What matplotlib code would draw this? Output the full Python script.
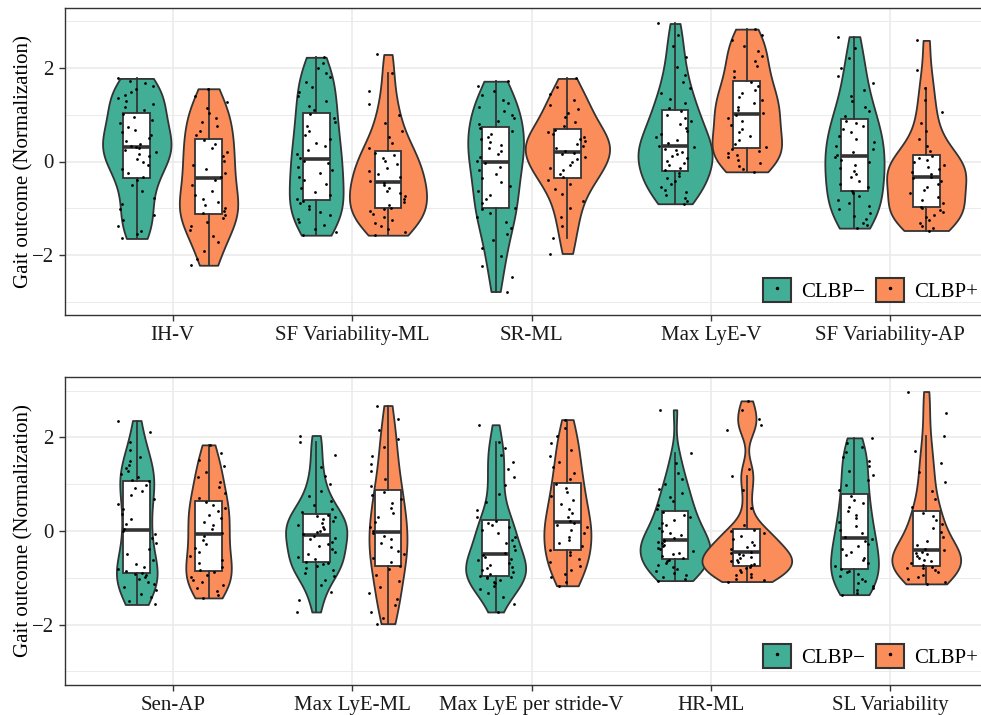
import numpy as np
import matplotlib.pyplot as plt
from matplotlib.patches import Patch
from matplotlib.lines import Line2D

plt.rcParams['font.family'] = ['Liberation Serif', 'DejaVu Serif']
plt.rcParams['font.size'] = 15

groups = ['CLBP\u2212', 'CLBP+']
colors = ['#42ae96', '#fb8d5b']
line_col = '#333333'

# ---- upper panel outcomes ----
top_labels = ['IH-V', 'SF Variability-ML', 'SR-ML', 'Max LyE-V', 'SF Variability-AP']

ihv_neg = [-1.64, -1.55, -1.47, -1.38, -1.25, -1.13, -1.02, -0.90, -0.78, -0.63, -0.50, -0.40,
           -0.33, -0.25, -0.16, -0.08, -0.02, 0.05, 0.11, 0.16, 0.20, 0.24, 0.28, 0.30,
           0.32, 0.37, 0.44, 0.50, 0.56, 0.62, 0.68, 0.74, 0.81, 0.88, 0.95, 1.01,
           1.09, 1.16, 1.22, 1.29, 1.35, 1.42, 1.48, 1.55, 1.61, 1.67, 1.72, 1.77]
ihv_pos = [-2.21, -2.08, -1.90, -1.72, -1.58, -1.46, -1.37, -1.29, -1.21, -1.15,
           -1.10, -1.05, -0.99, -0.93, -0.86, -0.79, -0.71, -0.62, -0.51, -0.39,
           -0.32, -0.24, -0.15, -0.07, 0.02, 0.11, 0.20, 0.29, 0.37, 0.45,
           0.57, 0.66, 0.75, 0.84, 0.93, 1.03, 1.14, 1.26, 1.40, 1.55]

sfml_neg = [-1.57, -1.50, -1.43, -1.36, -1.29, -1.22, -1.15, -1.08, -1.01, -0.94, -0.89, -0.84,
            -0.80, -0.72, -0.64, -0.56, -0.48, -0.40, -0.32, -0.25, -0.18, -0.11, -0.04, 0.02,
            0.08, 0.16, 0.24, 0.32, 0.40, 0.48, 0.57, 0.66, 0.75, 0.84, 0.93, 1.01,
            1.09, 1.19, 1.29, 1.39, 1.49, 1.59, 1.69, 1.79, 1.89, 1.99, 2.10, 2.22]
sfml_pos = [-1.57, -1.50, -1.43, -1.37, -1.30, -1.24, -1.18, -1.12, -1.06, -1.01,
            -0.98, -0.92, -0.86, -0.80, -0.74, -0.68, -0.62, -0.56, -0.50, -0.45,
            -0.41, -0.34, -0.27, -0.20, -0.13, -0.06, 0.01, 0.08, 0.14, 0.19,
            0.29, 0.40, 0.52, 0.66, 0.82, 1.00, 1.22, 1.50, 1.89, 2.28]

srml_neg = [-2.77, -2.45, -2.22, -2.02, -1.84, -1.68, -1.54, -1.41, -1.29, -1.18, -1.10, -1.02,
            -0.98, -0.89, -0.80, -0.71, -0.62, -0.53, -0.44, -0.36, -0.27, -0.19, -0.11, -0.04,
            0.02, 0.09, 0.15, 0.22, 0.28, 0.35, 0.41, 0.47, 0.53, 0.59, 0.65, 0.71,
            0.79, 0.86, 0.93, 1.00, 1.08, 1.16, 1.24, 1.32, 1.41, 1.50, 1.60, 1.71]
srml_pos = [-1.96, -1.62, -1.38, -1.18, -1.00, -0.84, -0.70, -0.58, -0.47, -0.39,
            -0.34, -0.26, -0.19, -0.13, -0.07, -0.01, 0.05, 0.10, 0.15, 0.19,
            0.23, 0.28, 0.33, 0.38, 0.43, 0.48, 0.53, 0.58, 0.63, 0.68,
            0.76, 0.85, 0.94, 1.03, 1.12, 1.21, 1.31, 1.43, 1.58, 1.77]

lyev_neg = [-0.90, -0.84, -0.78, -0.72, -0.66, -0.60, -0.54, -0.48, -0.42, -0.36, -0.30, -0.24,
            -0.19, -0.13, -0.08, -0.03, 0.02, 0.07, 0.12, 0.16, 0.20, 0.24, 0.27, 0.30,
            0.34, 0.40, 0.46, 0.52, 0.58, 0.65, 0.72, 0.79, 0.86, 0.93, 1.00, 1.07,
            1.15, 1.24, 1.34, 1.45, 1.57, 1.70, 1.85, 2.02, 2.22, 2.45, 2.70, 2.94]
lyev_pos = [-0.22, -0.15, -0.09, -0.03, 0.03, 0.09, 0.14, 0.19, 0.23, 0.27,
            0.30, 0.38, 0.46, 0.54, 0.62, 0.70, 0.78, 0.86, 0.93, 0.99,
            1.03, 1.10, 1.17, 1.24, 1.31, 1.38, 1.45, 1.53, 1.61, 1.69,
            1.81, 1.92, 2.03, 2.14, 2.25, 2.36, 2.47, 2.58, 2.70, 2.82]

sfap_neg = [-1.42, -1.36, -1.30, -1.23, -1.16, -1.09, -1.02, -0.95, -0.88, -0.81, -0.74, -0.67,
            -0.62, -0.55, -0.48, -0.41, -0.34, -0.27, -0.20, -0.13, -0.07, -0.01, 0.04, 0.09,
            0.13, 0.20, 0.27, 0.34, 0.41, 0.48, 0.55, 0.62, 0.69, 0.75, 0.81, 0.87,
            0.97, 1.07, 1.17, 1.28, 1.40, 1.53, 1.67, 1.83, 2.00, 2.20, 2.42, 2.66]
sfap_pos = [-1.47, -1.42, -1.37, -1.31, -1.25, -1.19, -1.13, -1.08, -1.04, -1.00,
            -0.96, -0.89, -0.82, -0.75, -0.68, -0.61, -0.54, -0.47, -0.41, -0.36,
            -0.32, -0.27, -0.22, -0.17, -0.12, -0.07, -0.02, 0.03, 0.08, 0.12,
            0.22, 0.34, 0.48, 0.64, 0.82, 1.05, 1.30, 1.57, 1.95, 2.58]

# ---- lower panel outcomes ----
bottom_labels = ['Sen-AP', 'Max LyE-ML', 'Max LyE per stride-V', 'HR-ML', 'SL Variability']

senap_neg = [-1.57, -1.50, -1.42, -1.34, -1.26, -1.19, -1.13, -1.08, -1.03, -0.99, -0.95, -0.92,
             -0.89, -0.86, -0.82, -0.77, -0.70, -0.61, -0.50, -0.38, -0.26, -0.15, -0.06, 0.00,
             0.04, 0.14, 0.25, 0.36, 0.47, 0.58, 0.68, 0.77, 0.85, 0.92, 0.99, 1.06,
             1.10, 1.16, 1.22, 1.28, 1.34, 1.41, 1.49, 1.59, 1.72, 1.90, 2.12, 2.36]
senap_pos = [-1.43, -1.36, -1.29, -1.22, -1.16, -1.10, -1.04, -0.98, -0.93, -0.88,
             -0.84, -0.77, -0.69, -0.61, -0.53, -0.45, -0.37, -0.28, -0.19, -0.10,
             -0.04, 0.04, 0.12, 0.20, 0.28, 0.35, 0.42, 0.49, 0.55, 0.62,
             0.71, 0.82, 0.93, 1.04, 1.15, 1.26, 1.38, 1.51, 1.66, 1.84]

lyeml_neg = [-1.73, -1.48, -1.30, -1.16, -1.05, -0.96, -0.89, -0.83, -0.78, -0.74, -0.71, -0.69,
             -0.66, -0.60, -0.55, -0.49, -0.44, -0.38, -0.33, -0.28, -0.23, -0.18, -0.14, -0.11,
             -0.07, -0.03, 0.01, 0.05, 0.09, 0.13, 0.17, 0.21, 0.25, 0.29, 0.32, 0.35,
             0.40, 0.47, 0.55, 0.64, 0.74, 0.86, 1.00, 1.17, 1.37, 1.62, 1.90, 2.04]
lyeml_pos = [-1.98, -1.85, -1.72, -1.59, -1.46, -1.33, -1.20, -1.07, -0.94, -0.81,
             -0.74, -0.66, -0.58, -0.50, -0.42, -0.34, -0.26, -0.18, -0.11, -0.05,
             -0.01, 0.09, 0.19, 0.29, 0.39, 0.49, 0.59, 0.68, 0.76, 0.84,
             0.96, 1.12, 1.28, 1.44, 1.61, 1.79, 1.97, 2.16, 2.40, 2.68]

lyes_neg = [-1.73, -1.55, -1.42, -1.32, -1.24, -1.17, -1.12, -1.08, -1.04, -1.01, -0.99, -0.98,
            -0.96, -0.92, -0.88, -0.84, -0.80, -0.76, -0.72, -0.68, -0.63, -0.59, -0.55, -0.51,
            -0.47, -0.40, -0.33, -0.26, -0.19, -0.12, -0.05, 0.02, 0.08, 0.13, 0.17, 0.21,
            0.30, 0.45, 0.62, 0.80, 0.98, 1.15, 1.32, 1.48, 1.63, 1.78, 1.91, 2.27]
lyes_pos = [-1.17, -1.08, -0.99, -0.91, -0.83, -0.75, -0.67, -0.59, -0.51, -0.44,
            -0.40, -0.33, -0.26, -0.19, -0.12, -0.05, 0.02, 0.08, 0.13, 0.17,
            0.21, 0.30, 0.39, 0.48, 0.57, 0.66, 0.75, 0.84, 0.92, 1.00,
            1.12, 1.24, 1.36, 1.48, 1.60, 1.73, 1.87, 2.02, 2.19, 2.38]

hrml_neg = [-1.06, -1.02, -0.98, -0.94, -0.90, -0.86, -0.82, -0.77, -0.72, -0.68, -0.64, -0.61,
            -0.58, -0.54, -0.50, -0.46, -0.43, -0.39, -0.36, -0.33, -0.29, -0.26, -0.23, -0.21,
            -0.19, -0.14, -0.09, -0.04, 0.01, 0.06, 0.12, 0.18, 0.24, 0.30, 0.35, 0.40,
            0.48, 0.56, 0.64, 0.72, 0.81, 0.90, 1.00, 1.11, 1.24, 1.45, 1.67, 2.59]
hrml_pos = [-1.08, -1.05, -1.02, -0.98, -0.95, -0.91, -0.88, -0.84, -0.80, -0.76,
            -0.73, -0.70, -0.67, -0.64, -0.61, -0.58, -0.55, -0.52, -0.49, -0.46,
            -0.44, -0.39, -0.34, -0.29, -0.23, -0.17, -0.11, -0.05, 0.00, 0.03,
            0.12, 0.50, 0.88, 1.17, 1.33, 2.16, 2.27, 2.40, 2.59, 2.78]

slv_neg = [-1.36, -1.32, -1.27, -1.22, -1.17, -1.12, -1.07, -1.02, -0.97, -0.92, -0.88, -0.85,
           -0.81, -0.75, -0.69, -0.63, -0.57, -0.51, -0.45, -0.39, -0.33, -0.27, -0.22, -0.17,
           -0.13, -0.05, 0.03, 0.11, 0.19, 0.27, 0.35, 0.43, 0.51, 0.59, 0.67, 0.75,
           0.87, 0.98, 1.09, 1.19, 1.29, 1.39, 1.49, 1.59, 1.69, 1.79, 1.89, 1.99]
slv_pos = [-1.13, -1.08, -1.03, -0.98, -0.93, -0.88, -0.84, -0.80, -0.78, -0.76,
           -0.73, -0.69, -0.65, -0.61, -0.57, -0.53, -0.50, -0.47, -0.44, -0.41,
           -0.39, -0.30, -0.21, -0.12, -0.03, 0.06, 0.15, 0.24, 0.32, 0.39,
           0.51, 0.68, 0.86, 1.05, 1.25, 1.46, 1.70, 2.02, 2.52, 2.98]

top_neg = [ihv_neg, sfml_neg, srml_neg, lyev_neg, sfap_neg]
top_pos = [ihv_pos, sfml_pos, srml_pos, lyev_pos, sfap_pos]
bottom_neg = [senap_neg, lyeml_neg, lyes_neg, hrml_neg, slv_neg]
bottom_pos = [senap_pos, lyeml_pos, lyes_pos, hrml_pos, slv_pos]

rng = np.random.default_rng(11)  # horizontal jitter for the dots


def kde_curve(vals, n=512):
    # gaussian kernel, Silverman bandwidth, trimmed to the data range
    v = np.asarray(vals, dtype=float)
    sd = v.std(ddof=1)
    q75, q25 = np.percentile(v, [75, 25])
    bw = 0.9 * min(sd, (q75 - q25) / 1.34) * len(v) ** -0.2
    y = np.linspace(v.min(), v.max(), n)
    d = np.exp(-0.5 * ((y[:, None] - v[None, :]) / bw) ** 2).sum(axis=1)
    d /= len(v) * bw * np.sqrt(2 * np.pi)
    return y, d


def draw_panel(ax, labels, neg, pos, max_w, legend_y):
    curves = [[kde_curve(v) for v in s] for s in (neg, pos)]
    dmax = max(d.max() for s in curves for _, d in s)
    base = np.arange(1, len(labels) + 1)
    for g, (series, col, shift) in enumerate(zip((neg, pos), colors, (-0.2, 0.2))):
        xs = base + shift
        for x, (yy, dd) in zip(xs, curves[g]):
            hw = dd / dmax * max_w / 2
            ax.fill_betweenx(yy, x - hw, x + hw, facecolor=col, edgecolor=line_col,
                             linewidth=1.3, zorder=2)
        ax.boxplot(series, positions=xs, widths=0.15, whis=1.5, showfliers=False,
                   showcaps=False, patch_artist=True, manage_ticks=False, zorder=3,
                   boxprops=dict(facecolor='white', edgecolor=line_col, linewidth=1.3),
                   whiskerprops=dict(color=line_col, linewidth=1.3),
                   medianprops=dict(color=line_col, linewidth=2.6))
        for x, vals in zip(xs, series):
            jit = rng.uniform(-0.11, 0.11, len(vals))
            ax.scatter(x + jit, vals, s=4, color='black', linewidths=0, zorder=4)

    ax.set_xlim(0.4, 5.6)
    ax.set_xticks(base, labels)
    ax.set_yticks([-2, 0, 2])
    ax.set_yticks([-3, -1, 1, 3], minor=True)
    ax.grid(which='major', color='#ebebeb', linewidth=1.2)
    ax.grid(which='minor', axis='y', color='#ebebeb', linewidth=0.7)
    ax.set_axisbelow(True)
    ax.tick_params(which='major', length=4, width=1, color=line_col, pad=4, labelcolor='#1a1a1a')
    ax.tick_params(which='minor', length=0)
    for sp in ax.spines.values():
        sp.set_color(line_col)
        sp.set_linewidth(1.0)
    ax.set_ylabel('Gait outcome (Normalization)', labelpad=-1)

    handles = [(Patch(facecolor=c, edgecolor=line_col, linewidth=1.5),
                Line2D([], [], linestyle='none', marker='o', markersize=1.5, color='black'))
               for c in colors]
    ax.legend(handles, groups, ncol=2, loc='lower left',
              bbox_to_anchor=(763 / 981, legend_y), bbox_transform=fig.transFigure,
              frameon=False, handlelength=1.35, handleheight=1.35, handletextpad=0.5,
              columnspacing=0.5, borderpad=0, borderaxespad=0)


fig = plt.figure(figsize=(9.81, 7.15), dpi=100)
ax_top = fig.add_axes([65 / 981, 1 - 315 / 715, 933 / 981, 307 / 715])
ax_bot = fig.add_axes([65 / 981, 1 - 685 / 715, 933 / 981, 308 / 715])

draw_panel(ax_top, top_labels, top_neg, top_pos, 0.47, 1 - 302 / 715)
ax_top.set_ylim(-3.27, 3.27)
draw_panel(ax_bot, bottom_labels, bottom_neg, bottom_pos, 0.5, 1 - 668 / 715)
ax_bot.set_ylim(-3.29, 3.29)

fig.savefig('out.png', dpi=100)
